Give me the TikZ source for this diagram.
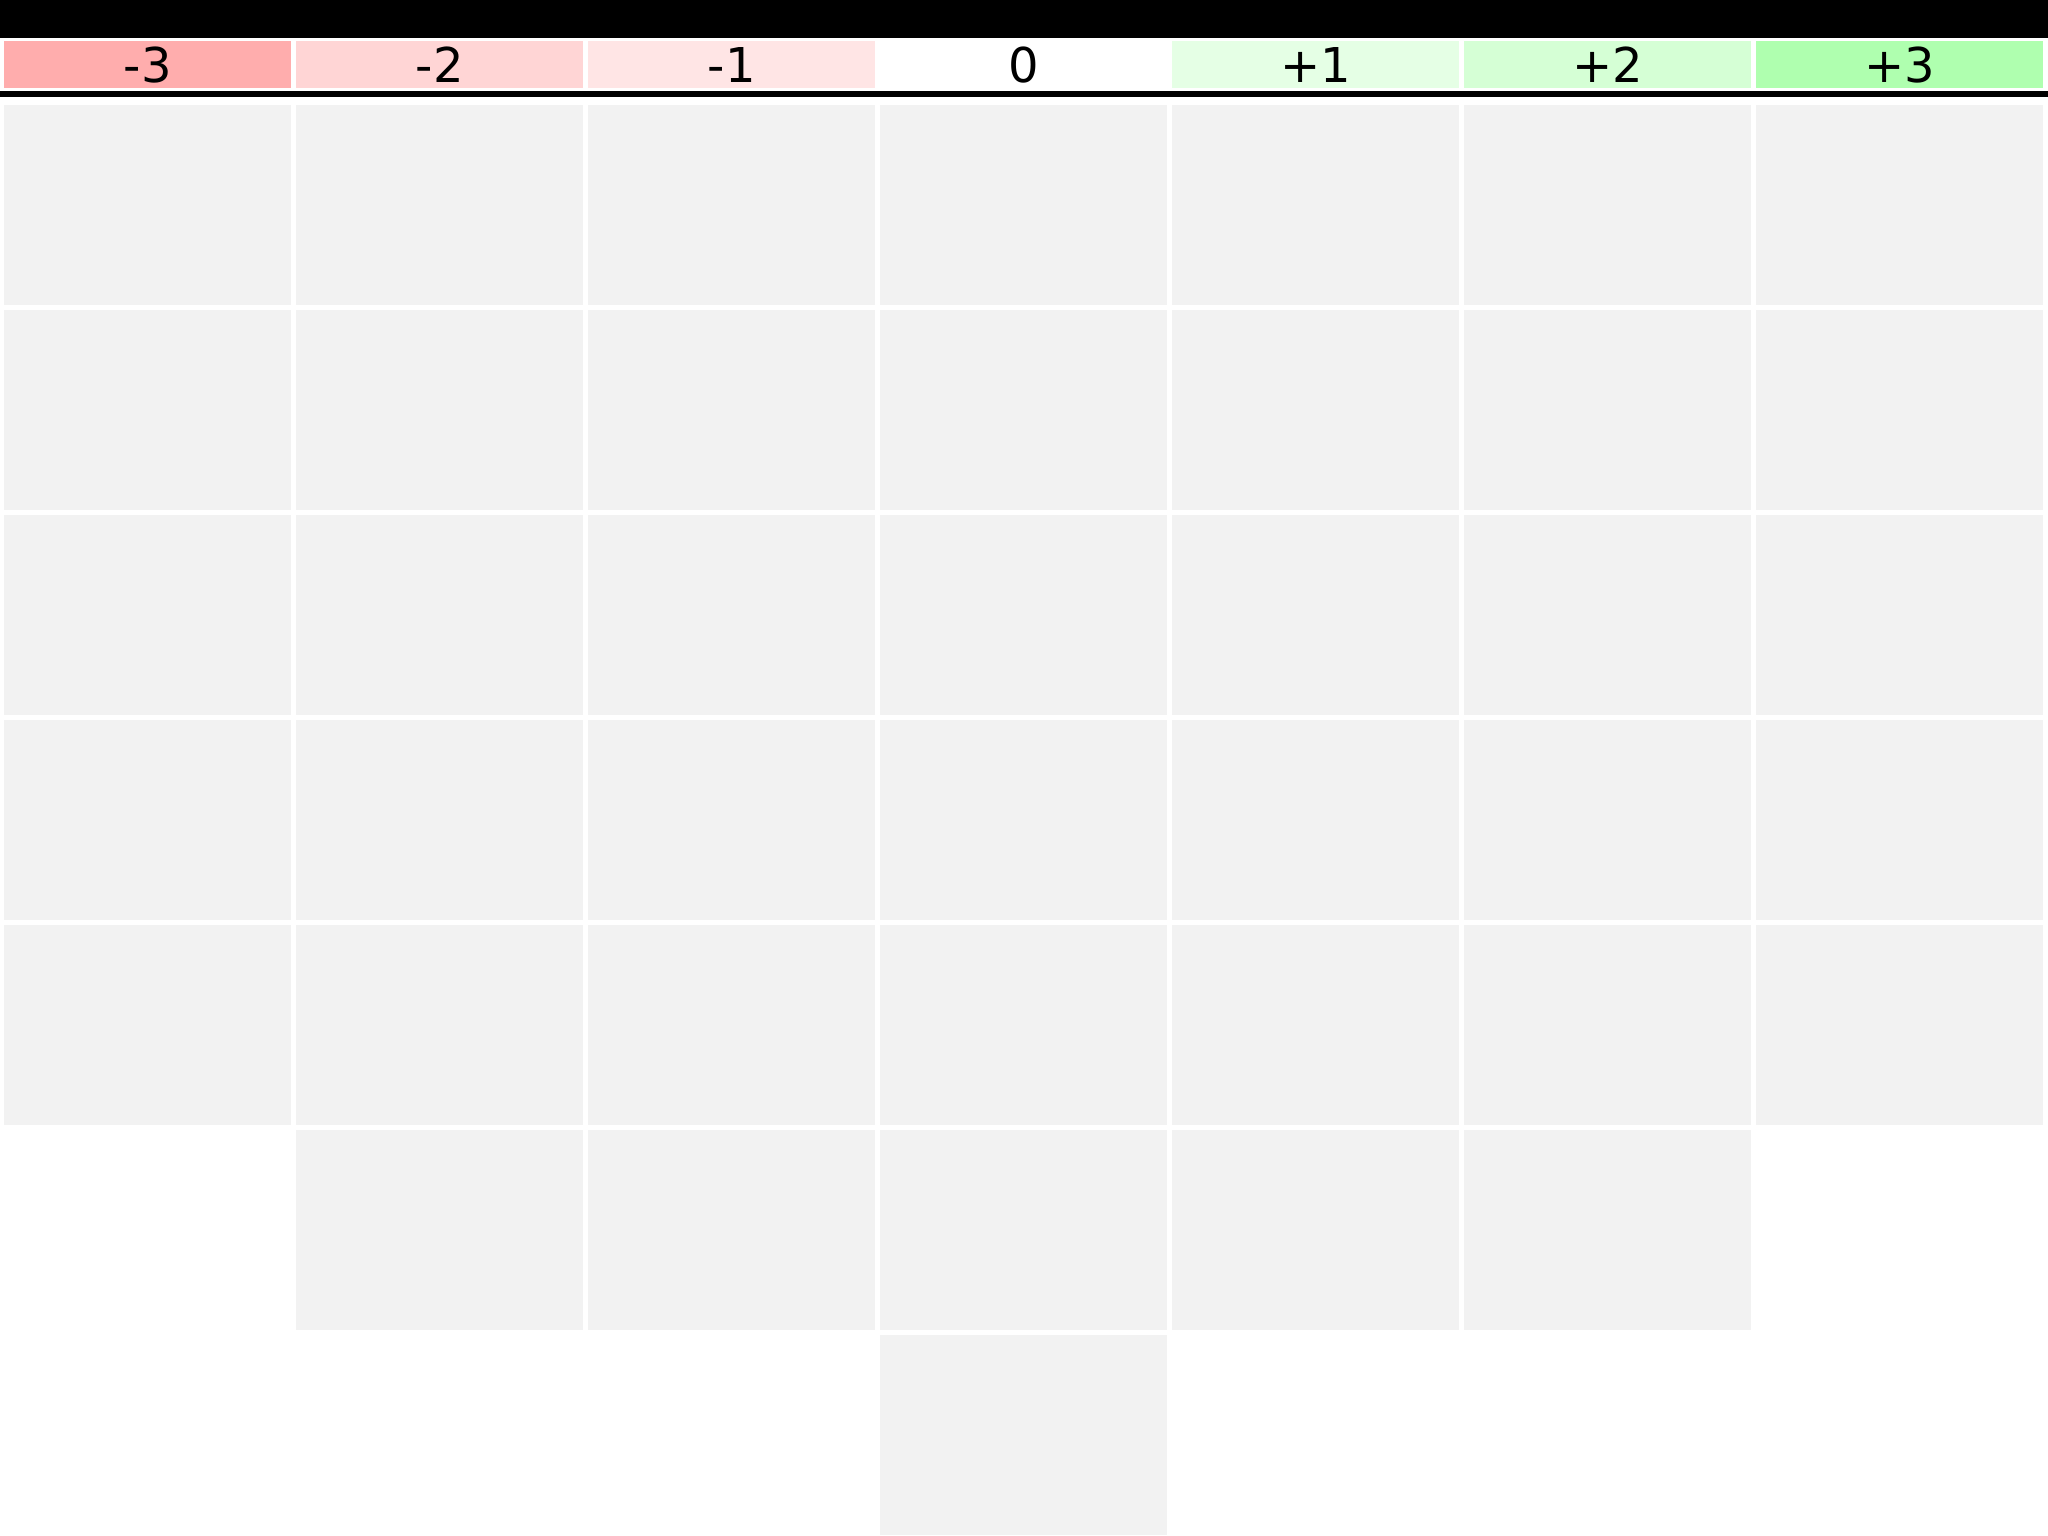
\documentclass[tikz,border=0pt]{standalone}
\usepackage{fontspec}
\setmainfont{DejaVu Sans}
\definecolor{cm3}{HTML}{FFADAD}
\definecolor{cm2}{HTML}{FFD5D5}
\definecolor{cm1}{HTML}{FFE5E5}
\definecolor{cz}{HTML}{FFFFFF}
\definecolor{cp1}{HTML}{E5FFE5}
\definecolor{cp2}{HTML}{D5FFD5}
\definecolor{cp3}{HTML}{AFFFAF}
\definecolor{cellgray}{HTML}{F2F2F2}
\begin{document}
\begin{tikzpicture}[x=1pt,y=-1pt,
  hdr/.style={anchor=north west,inner sep=0pt,minimum width=287pt,minimum height=47pt,font=\fontsize{48}{48}\selectfont},
  cell/.style={anchor=north west,inner sep=0pt,minimum width=287pt,minimum height=200pt,fill=cellgray}]
\useasboundingbox (0,0) rectangle (2048,1536);
\fill[white] (0,0) rectangle (2048,1536);
\fill[black] (0,0) rectangle (2048,38);
\fill[black] (0,91) rectangle (2048,97);
\foreach \c/\t/\col [count=\i from 0] in {m3/-3/cm3,m2/-2/cm2,m1/-1/cm1,z/0/cz,p1/+1/cp1,p2/+2/cp2,p3/+3/cp3}{
  \node[hdr,fill=\col] (h\c) at ({4+\i*292},41) {\t};
}
\foreach \r in {0,...,4}{
  \foreach \i in {0,...,6}{
    \node[cell] (c\r\i) at ({4+\i*292},{105+\r*205}) {};
  }
}
\foreach \i in {1,...,5}{
  \node[cell] (c5\i) at ({4+\i*292},1130) {};
}
\node[cell] (c63) at ({4+3*292},1335) {};
\end{tikzpicture}
\end{document}
